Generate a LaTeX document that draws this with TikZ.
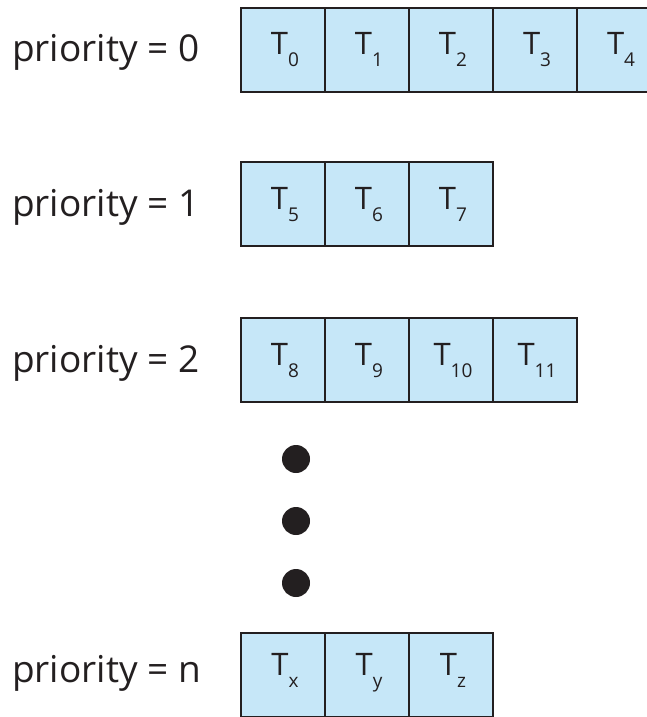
\documentclass[tikz,border=0pt]{standalone}
\usepackage{fontspec}
\setmainfont{Open Sans}
\usetikzlibrary{shapes.geometric}
\definecolor{cellfill}{RGB}{198,231,248}
\definecolor{ink}{RGB}{35,31,32}
\newcommand{\tsk}[1]{T\raisebox{-12pt}{\fontsize{19}{19}\selectfont #1}}
\begin{document}
\begin{tikzpicture}[x=1pt,y=-1pt,
  cell/.style={draw=ink,fill=cellfill,line width=2.6pt,minimum width=84pt,minimum height=84pt,inner sep=0pt},
  tl/.style={anchor=base,inner sep=0pt,text=ink,font=\fontsize{31}{36}\selectfont},
  plabel/.style={anchor=base west,inner sep=0pt,text=ink,font=\fontsize{37}{44}\selectfont},
  dot/.style={circle,fill=ink,minimum size=28pt,inner sep=0pt}]
\useasboundingbox (0,0) rectangle (646,717);
% row 0
\node[plabel] (p0) at (12,62) {priority = 0};
\foreach \i/\x in {0/283,1/367,2/451,3/535,4/619}{
  \node[cell] (a\i) at (\x,50) {};
  \node[tl] (ta\i) at ([yshift=-5pt,xshift=2pt]a\i.center) {\tsk{\i}};
}
% row 1
\node[plabel] (p1) at (12,216) {priority = 1};
\foreach \i/\x/\n in {0/283/5,1/367/6,2/451/7}{
  \node[cell] (b\i) at (\x,204) {};
  \node[tl] (tb\i) at ([yshift=-5pt,xshift=2pt]b\i.center) {\tsk{\n}};
}
% row 2
\node[plabel] (p2) at (12,372) {priority = 2};
\foreach \i/\x/\n in {0/283/8,1/367/9,2/451/10,3/535/11}{
  \node[cell] (c\i) at (\x,360) {};
  \node[tl] (tc\i) at ([yshift=-5pt,xshift=2pt]c\i.center) {\tsk{\n}};
}
% dots
\node[dot] (d1) at (296,459) {};
\node[dot] (d2) at (296,521) {};
\node[dot] (d3) at (296,583) {};
% row n
\node[plabel] (pn) at (12,682) {priority = n};
\foreach \i/\x/\n in {0/283/x,1/367/y,2/451/z}{
  \node[cell] (e\i) at (\x,675) {};
  \node[tl] (te\i) at ([yshift=0pt,xshift=2pt]e\i.center) {\tsk{\n}};
}
\end{tikzpicture}
\end{document}
